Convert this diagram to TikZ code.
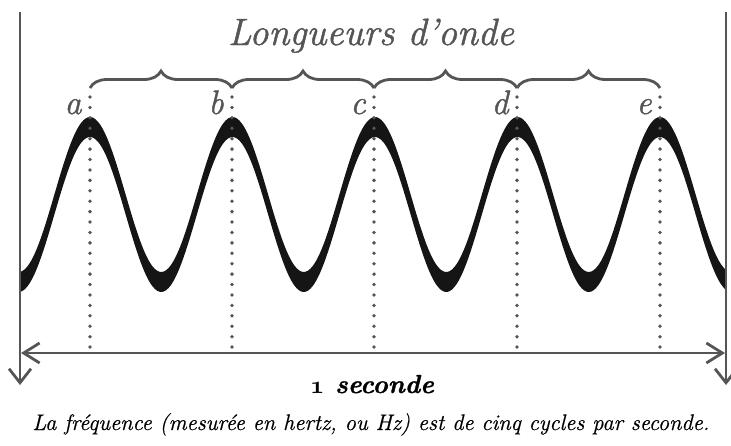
\documentclass[tikz,border=0pt]{standalone}
\usepackage{fontspec}
\newfontfamily\garafont{Latin Modern Roman}[FakeBold=1.2,Ligatures=TeX]
\newfontfamily\garalight{Latin Modern Roman}[FakeBold=0.6,Ligatures=TeX]
\usetikzlibrary{arrows.meta,decorations.pathreplacing}
\definecolor{inkgray}{HTML}{555555}
\definecolor{dotgray}{HTML}{555555}
\definecolor{waveblack}{HTML}{151515}
\begin{document}
\begin{tikzpicture}[x=1pt,y=-1pt,
  axisline/.style={draw=inkgray,line width=2.8pt},
  dotline/.style={draw=dotgray,line width=3.8pt,line cap=round,dash pattern=on 0pt off 10.42pt},
  bracestyle/.style={draw=inkgray,line width=2.8pt,decorate,decoration={brace,amplitude=17pt}},
  peaklabel/.style={text=inkgray,font=\fontsize{34}{36}\selectfont\garafont\itshape,anchor=base,inner sep=0pt},
]
\useasboundingbox (0,0) rectangle (731,445);

% wave band
\fill[waveblack]
  plot[domain=20:726,samples=300,smooth] (\x,{194.5-77.5*cos(2.526316*(\x-90))})
  -- plot[domain=726:20,samples=300,smooth] (\x,{214.5-77.5*cos(2.526316*(\x-90))})
  -- cycle;

% coordinates
\coordinate (lt) at (20,12);
\coordinate (lb) at (20,385);
\coordinate (rt) at (726,12);
\coordinate (rb) at (726,385);
\coordinate (hl) at (21,353);
\coordinate (hr) at (725,353);

\coordinate (atop) at (90,97);  \coordinate (abot) at (90,347.5);  \coordinate (abr) at (90,88);
\coordinate (btop) at (232,97); \coordinate (bbot) at (232,347.5); \coordinate (bbr) at (232,88);
\coordinate (ctop) at (374,97); \coordinate (cbot) at (374,347.5); \coordinate (cbr) at (374,88);
\coordinate (dtop) at (517,97); \coordinate (dbot) at (517,347.5); \coordinate (dbr) at (517,88);
\coordinate (etop) at (660,97); \coordinate (ebot) at (660,347.5); \coordinate (ebr) at (660,88);

% dotted verticals
\draw[dotline] (atop) -- (abot);
\draw[dotline] (btop) -- (bbot);
\draw[dotline] (ctop) -- (cbot);
\draw[dotline] (dtop) -- (dbot);
\draw[dotline] (etop) -- (ebot);

% braces
\draw[bracestyle] (abr) -- (bbr);
\draw[bracestyle] (bbr) -- (cbr);
\draw[bracestyle] (cbr) -- (dbr);
\draw[bracestyle] (dbr) -- (ebr);

% axis lines
\draw[axisline,-{Straight Barb[length=14pt,width=22pt]}] (lt) -- (lb);
\draw[axisline,-{Straight Barb[length=14pt,width=22pt]}] (rt) -- (rb);
\draw[axisline,{Straight Barb[length=16pt,width=20pt]}-{Straight Barb[length=16pt,width=20pt]}] (hl) -- (hr);

% labels
\node[peaklabel] (la) at (73,114) {a};
\node[peaklabel] (lb2) at (216,114) {b};
\node[peaklabel] (lc) at (358,114) {c};
\node[peaklabel] (ld) at (500,114) {d};
\node[peaklabel] (le) at (644,114) {e};

\node[text=inkgray,font=\fontsize{38}{40}\selectfont\garafont\itshape,anchor=base,inner sep=0pt] (title) at (371,45) {Longueurs d’onde};
\node[text=black,font=\fontsize{26}{28}\selectfont\garafont\bfseries\itshape,anchor=base,inner sep=0pt] (sec) at (372,393) {{\fontsize{30}{30}\usefont{OML}{cmm}{b}{it}1} seconde};
\node[text=black,font=\fontsize{22.5}{24}\selectfont\garalight\itshape,anchor=base,inner sep=0pt] (cap) at (371,430) {La fréquence (mesurée en hertz, ou Hz) est de cinq cycles par seconde.};
\end{tikzpicture}
\end{document}
